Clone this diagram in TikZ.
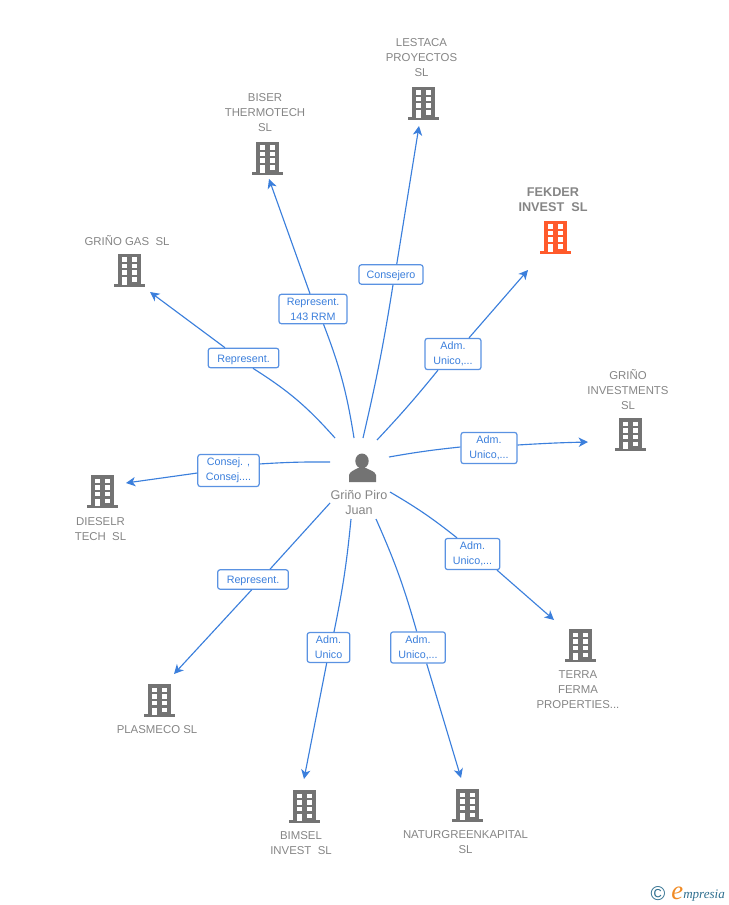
\documentclass[tikz,border=0pt]{standalone}
\usepackage{fontspec}
\setmainfont{Liberation Sans}
\newfontfamily\logofont{Liberation Serif}
\usetikzlibrary{arrows.meta}
\definecolor{linkblue}{HTML}{3B7FDC}
\definecolor{boxblue}{HTML}{5A92E2}
\definecolor{icongray}{HTML}{737373}
\definecolor{textgray}{HTML}{858585}
\definecolor{iconorange}{HTML}{FF5A2B}
\definecolor{logoteal}{HTML}{2F6F8F}
\definecolor{logoorange}{HTML}{F08A24}
\tikzset{
	building/.pic={
		\fill [pic actions] (-11.5,-16) rectangle (11.5,14);
		\fill [pic actions] (-15.5,14) rectangle (15.5,17);
		\foreach \wy in {-12.5,-6,0.5} {
			\fill [white] (-7.5,\wy) rectangle (-2.5,\wy+4.5);
			\fill [white] (2.5,\wy) rectangle (7.5,\wy+4.5);
		}
		\fill [white] (-7.5,7.5) rectangle (-2.5,15);
		\fill [white] (2.5,7.5) rectangle (7.5,12);
	},
	company/.style={font=\fontsize{8.55}{11.25}\selectfont,text=textgray,align=center,inner sep=0},
	linkbox/.style={draw=boxblue,line width=0.9pt,rounded corners=1.8pt,fill=white,text=linkblue,
		font=\fontsize{8.05}{11.25}\selectfont,align=center,inner xsep=0,inner ysep=2.6pt,
		execute at begin node={\rule{0pt}{7.7pt}}},
	link/.style={draw=linkblue,line width=0.85pt},
	arrowlink/.style={link,-{Stealth[length=7pt,width=7pt,inset=2pt]}}
}
\begin{document}
\begin{tikzpicture}[x=0.75pt,y=-0.75pt]
	\useasboundingbox (0,0) rectangle (728,905);

	% person
	\fill [icongray] (349,482) -- (349,475) .. controls (350,471) and (355,470) .. (358,468) -- (366,468) .. controls (369,470) and (375,471) .. (376,475) -- (376,482) -- cycle;
	\fill [icongray] (362,461) ellipse [x radius=6.7,y radius=7.5];
	\node [company,font=\fontsize{9.45}{11.25}\selectfont] (juan) at (359,502) {Griño Piro\\Juan};

	% companies
	\pic [fill=icongray] at (423.5,103) {building};
	\node [company] (lestaca) at (421.5,57.5) {LESTACA\\PROYECTOS\\SL};

	\pic [fill=icongray] at (267,158) {building};
	\node [company] (biser) at (265,112.5) {BISER\\THERMOTECH\\SL};

	\pic [fill=iconorange] at (555.5,237) {building};
	\node [company,font=\fontsize{9.5}{11.25}\selectfont\bfseries] (fekder) at (553,200) {FEKDER\\INVEST\ \ SL};

	\pic [fill=icongray] at (129,270) {building};
	\node [company] (gas) at (127,240.5) {GRIÑO GAS\ \ SL};

	\pic [fill=icongray] at (630,434) {building};
	\node [company] (investments) at (628,389.5) {GRIÑO\\INVESTMENTS\\SL};

	\pic [fill=icongray] at (102.5,491) {building};
	\node [company] (dieselr) at (100.5,529) {DIESELR\\TECH\ \ SL};

	\pic [fill=icongray] at (580,645) {building};
	\node [company] (terra) at (578,689.5) {TERRA\\FERMA\\PROPERTIES...};

	\pic [fill=icongray] at (159,700) {building};
	\node [company] (plasmeco) at (157,729.5) {PLASMECO SL};

	\pic [fill=icongray] at (304,806) {building};
	\node [company] (bimsel) at (301,843) {BIMSEL\\INVEST\ \ SL};

	\pic [fill=icongray] at (467,805) {building};
	\node [company] (naturgreen) at (465.5,842) {NATURGREENKAPITAL\\SL};

	% link labels
	\node [linkbox,minimum width=53pt] (lgas) at (243.5,358) {Represent.};
	\node [linkbox,minimum width=51pt] (lbiser) at (313,309) {Represent.\\143 RRM};
	\node [linkbox,minimum width=48pt] (llestaca) at (391,274.5) {Consejero};
	\node [linkbox,minimum width=42pt] (lfekder) at (453,354) {Adm.\\Unico,...};
	\node [linkbox,minimum width=42pt] (linvest) at (489,448) {Adm.\\Unico,...};
	\node [linkbox,minimum width=41pt] (lterra) at (472.5,554) {Adm.\\Unico,...};
	\node [linkbox,minimum width=41pt] (lnatur) at (418,647.5) {Adm.\\Unico,...};
	\node [linkbox,minimum width=32pt] (lbimsel) at (328.5,647.5) {Adm.\\Unico};
	\node [linkbox,minimum width=53pt] (lplasmeco) at (253,579.5) {Represent.};
	\node [linkbox,minimum width=46pt] (ldieselr) at (228.5,470.5) {Consej. ,\\Consej....};

	% link ends
	\coordinate (sgas) at (335,438);
	\coordinate (egas) at (150,292);
	\coordinate (sbiser) at (354,438);
	\coordinate (ebiser) at (269,179);
	\coordinate (slestaca) at (363,438);
	\coordinate (elestaca) at (419,126);
	\coordinate (sfekder) at (377,440);
	\coordinate (efekder) at (528,270);
	\coordinate (sinvest) at (389,457);
	\coordinate (einvest) at (588,442);
	\coordinate (sterra) at (390,492);
	\coordinate (eterra) at (554,620);
	\coordinate (snatur) at (376,519);
	\coordinate (enatur) at (461,778);
	\coordinate (sbimsel) at (351,519);
	\coordinate (ebimsel) at (304,779);
	\coordinate (splasmeco) at (330,503);
	\coordinate (eplasmeco) at (174,674);
	\coordinate (sdieselr) at (330,462);
	\coordinate (edieselr) at (126,483);

	% links
	\draw [link] (sgas) to [bend right=8] ([xshift=7.1pt]lgas.south);
	\draw [arrowlink] ([xshift=-13.9pt]lgas.north) -- (egas);
	\draw [link] (sbiser) to [bend right=6] ([xshift=7.9pt]lbiser.south);
	\draw [arrowlink] ([xshift=-2.25pt]lbiser.north) -- (ebiser);
	\draw [link] (slestaca) to [bend right=2] ([xshift=1.5pt]llestaca.south);
	\draw [arrowlink] ([xshift=4.3pt]llestaca.north) -- (elestaca);
	\draw [link] (sfekder) to [bend right=2] ([xshift=-11.25pt]lfekder.south);
	\draw [arrowlink] ([xshift=12pt]lfekder.north) -- (efekder);
	\draw [link] (sinvest) to [bend left=2] ([yshift=0.75pt]linvest.west);
	\draw [arrowlink] ([yshift=2.25pt]linvest.east) to [bend left=1] (einvest);
	\draw [link] (sterra) to [bend left=4] ([xshift=-11.6pt]lterra.north);
	\draw [arrowlink] ([xshift=18.4pt]lterra.south) -- (eterra);
	\draw [link] (snatur) to [bend left=4] ([xshift=-1pt]lnatur.north);
	\draw [arrowlink] ([xshift=6.5pt]lnatur.south) -- (enatur);
	\draw [link] (sbimsel) to [bend left=3] ([xshift=4.1pt]lbimsel.north);
	\draw [arrowlink] ([xshift=-1.35pt]lbimsel.south) -- (ebimsel);
	\draw [link] (splasmeco) -- ([xshift=12.75pt]lplasmeco.north);
	\draw [arrowlink] ([xshift=-1pt]lplasmeco.south) -- (eplasmeco);
	\draw [link] (sdieselr) to [bend right=2] ([yshift=4.9pt]ldieselr.east);
	\draw [arrowlink] ([yshift=-1.9pt]ldieselr.west) -- (edieselr);

	% logo
	\node [inner sep=0,text=logoteal,font=\fontsize{15}{16}\selectfont] (copyright) at (658,894) {©};
	\node [inner sep=0,anchor=base west,text=logoorange,font=\logofont\itshape\fontsize{20}{20}\selectfont] (logoe) at (671,899) {e};
	\node [inner sep=0,anchor=base west,text=logoteal,font=\logofont\itshape\fontsize{9.8}{11}\selectfont] (logoname) at (683,898) {mpresia};
\end{tikzpicture}
\end{document}
